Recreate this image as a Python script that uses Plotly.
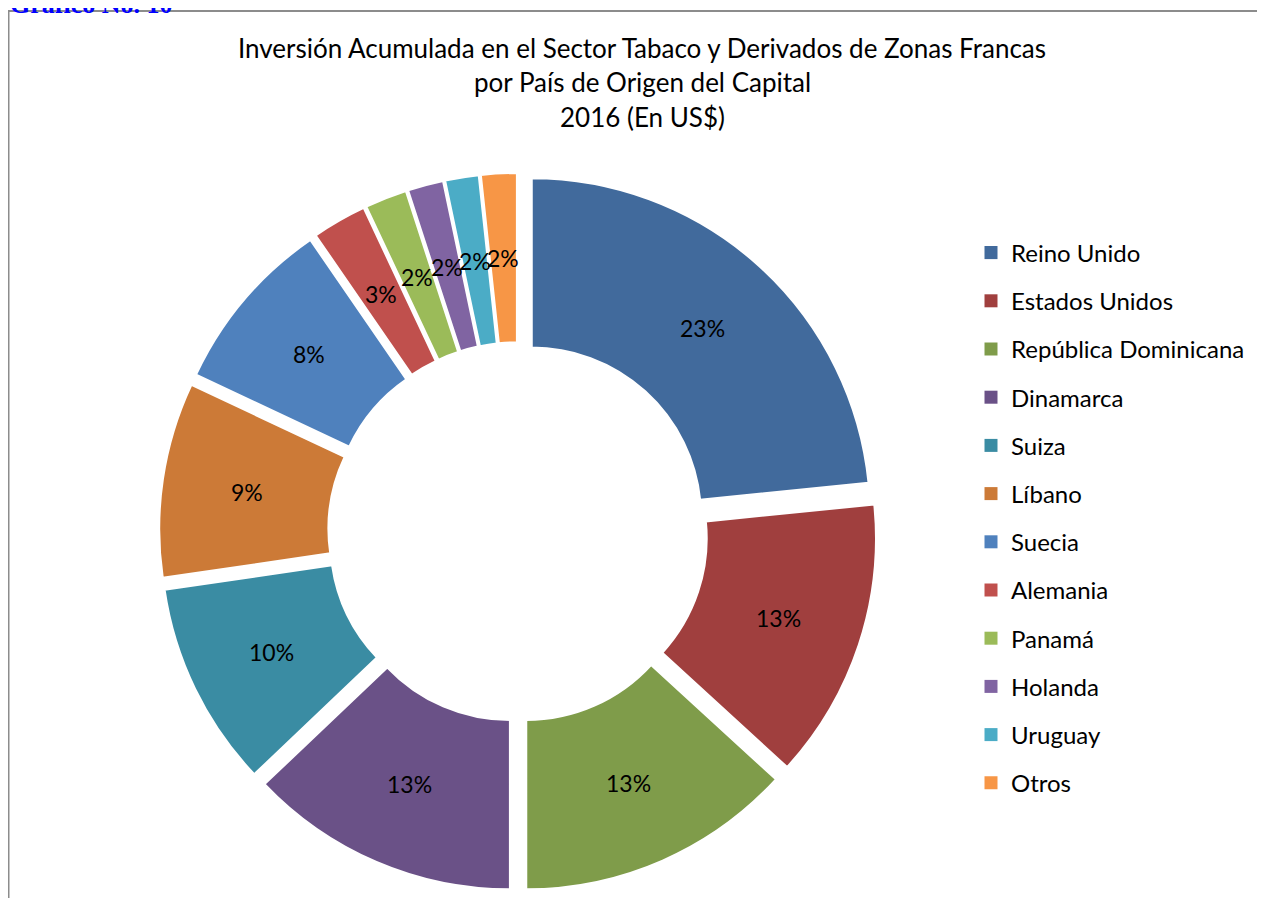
import math
import plotly.graph_objects as go

# Datos del grafico
paises = ["Reino Unido", "Estados Unidos", "República Dominicana", "Dinamarca", "Suiza",
          "Líbano", "Suecia", "Alemania", "Panamá", "Holanda", "Uruguay", "Otros"]
porcentajes = [23.4, 13.4, 13.2, 12.9, 9.8, 9.3, 8.4, 2.6, 2.0, 1.7, 1.6, 1.7]
colores = ["#416A9C", "#A03F3E", "#7F9C4A", "#6A5187", "#3A8CA3", "#CC7A37",
           "#4F81BD", "#C0504D", "#9BBB59", "#8064A2", "#4BACC6", "#F79646"]
titulo = ["Inversión Acumulada en el Sector Tabaco y Derivados de Zonas Francas",
          "por País de Origen del Capital",
          "2016 (En US$)"]

W, H = 1265, 898
FONT = "Lato"

# geometria de la dona (en pixeles de la figura)
CX, CY = 510, 524
R_EXT, HOLE, PULL = 338.5, 0.5, 0.0606
caja = R_EXT * (1 + PULL)

fig = go.Figure()

# Grafico de dona con porciones separadas
fig.add_trace(go.Pie(
    labels=paises, values=porcentajes, sort=False, direction="clockwise", rotation=0,
    hole=HOLE, pull=PULL,
    marker=dict(colors=colores, line=dict(color="white", width=2)),
    textinfo="none",
    domain=dict(x=[(CX - caja) / W, (CX + caja) / W], y=[(H - CY - caja) / H, (H - CY + caja) / H]),
    showlegend=False, hoverinfo="label+percent",
))

# Etiquetas de porcentaje a media altura del anillo
total = sum(porcentajes)
acum = 0
r_lab = R_EXT * (1 + HOLE) / 2 + R_EXT * PULL
for v in porcentajes:
    ang = math.radians((acum + v / 2) / total * 360)
    acum += v
    x = CX + r_lab * math.sin(ang)
    y = CY - r_lab * math.cos(ang)
    fig.add_annotation(text=f"{round(v / total * 100)}%", x=x / W, y=1 - y / H,
                       xref="paper", yref="paper", showarrow=False,
                       xanchor="center", yanchor="middle",
                       font=dict(family=FONT, size=23, color="black"))

# Leyenda (una entrada por pais para poder espaciar las filas)
for p, c in zip(paises, colores):
    fig.add_trace(go.Scatter(
        x=[None], y=[None], mode="markers", name=p, legendgroup=p,
        marker=dict(symbol="square", size=13, color=c),
    ))

# Titulo en tres lineas
for i, t in enumerate(titulo):
    fig.add_annotation(text=t, x=634 / W, y=1 - (40 + 34.5 * i) / H, xref="paper", yref="paper",
                       xanchor="center", yanchor="middle", showarrow=False,
                       font=dict(family=FONT, size=26, color="black"))

# Encabezado cortado en la parte superior
fig.add_annotation(text="<b>Gráfico No. 10</b>", x=0, y=1, xref="paper", yref="paper",
                   xanchor="left", yanchor="top", yshift=20, showarrow=False,
                   font=dict(family="Liberation Serif", size=26, color="#0000FF"))

# Marco del grafico
fig.add_shape(type="rect", xref="paper", yref="paper",
              x0=0.5 / W, x1=1.02, y0=-0.02, y1=1 - 3 / H,
              line=dict(color="#8C8C8C", width=2))

fig.update_layout(
    width=W, height=H,
    margin=dict(l=0, r=0, t=0, b=0),
    paper_bgcolor="white", plot_bgcolor="white",
    xaxis=dict(visible=False), yaxis=dict(visible=False),
    legend=dict(x=963 / W, y=1 - 222.5 / H, xanchor="left", yanchor="top",
                font=dict(family=FONT, size=24, color="black"),
                tracegroupgap=14, itemclick=False, itemdoubleclick=False),
)

fig.write_html("out.html")
